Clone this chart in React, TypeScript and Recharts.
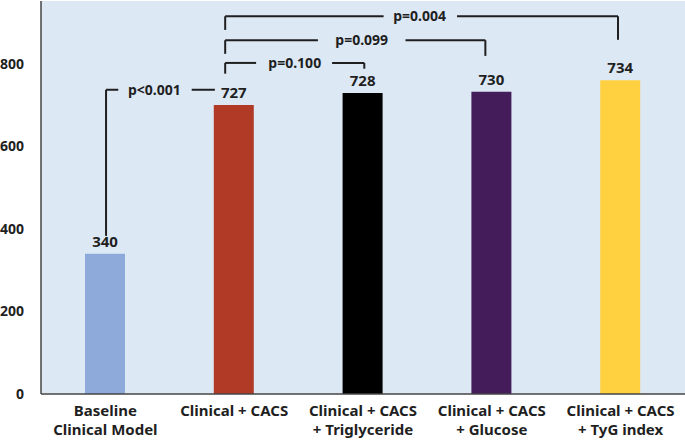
import { BarChart, Bar, XAxis, YAxis, CartesianGrid, LabelList, ReferenceLine, ReferenceDot, Cell } from 'recharts';

const categories = ['Baseline\nClinical Model', 'Clinical + CACS', 'Clinical + CACS\n+ Triglyceride', 'Clinical + CACS\n+ Glucose', 'Clinical + CACS\n+ TyG index'];
const barHeights = [340, 700, 729, 732, 760];
const barLabels = [340, 727, 728, 730, 734];
const barColors = ['#8eaadb', '#b03a26', '#000000', '#441c5a', '#ffd040'];
const yTicks = [0, 200, 400, 600, 800];

// significance brackets (x in category index units, y in value units)
const brackets = [
  { text: 'p<0.001', x1: 0.005, x2: 0.85, y: 737, leftDrop: 383, rightDrop: null, textX: 0.38, gapL: 0.1, gapR: 0.67 },
  { text: 'p=0.100', x1: 0.93, x2: 2.01, y: 802, leftDrop: 776, rightDrop: 788, textX: 1.47, gapL: 1.17, gapR: 1.76 },
  { text: 'p=0.099', x1: 0.93, x2: 2.95, y: 857, leftDrop: 824, rightDrop: 819, textX: 1.99, gapL: 1.65, gapR: 2.33 },
  { text: 'p=0.004', x1: 0.93, x2: 3.98, y: 915, leftDrop: 882, rightDrop: 858, textX: 2.44, gapL: 2.16, gapR: 2.73 },
];

const data = categories.map((name, i) => ({ x: i, name, value: barHeights[i], label: barLabels[i] }));

const FONT = '"Noto Sans", sans-serif';
const INK = '#1f1f1f';

function XTick(props: any) {
  const { x, y, payload } = props;
  const lines = categories[payload.value].split('\n');
  return (
    <text x={x} y={y} textAnchor="middle" fontFamily={FONT} fontSize={15} fontWeight="bold" fill={INK}>
      {lines.map((l, i) => (
        <tspan key={i} x={x} dy={i === 0 ? 14 : 19}>{l}</tspan>
      ))}
    </text>
  );
}

export default function App() {
  const segs: any[] = [];
  brackets.forEach((b) => {
    segs.push([{ x: b.x1, y: b.leftDrop }, { x: b.x1, y: b.y }]);
    segs.push([{ x: b.x1, y: b.y }, { x: b.gapL, y: b.y }]);
    segs.push([{ x: b.gapR, y: b.y }, { x: b.x2, y: b.y }]);
    if (b.rightDrop !== null) segs.push([{ x: b.x2, y: b.y }, { x: b.x2, y: b.rightDrop }]);
  });

  return (
    <div style={{ position: 'absolute', left: 0, top: 0, background: '#fff' }}>
      <BarChart width={685} height={440} data={data} margin={{ top: 1, right: 0, bottom: 0, left: 0 }}>
        <CartesianGrid horizontal={false} vertical={false} fill="#dde8f5" stroke="none" />
        <XAxis
          dataKey="x"
          type="number"
          domain={[-0.5, 4.5]}
          ticks={[0, 1, 2, 3, 4]}
          interval={0}
          height={46}
          tick={<XTick />}
          tickLine={false}
          axisLine={{ stroke: '#444', strokeWidth: 1.5 }}
        />
        <YAxis
          domain={[0, 952]}
          ticks={yTicks}
          width={41}
          tickSize={0}
          tickMargin={17}
          tickLine={false}
          axisLine={{ stroke: '#444', strokeWidth: 1.5 }}
          tick={{ fontFamily: FONT, fontSize: 14, fontWeight: 'bold', fill: INK }}
          allowDataOverflow
        />
        <Bar dataKey="value" barSize={40} isAnimationActive={false}>
          {data.map((d, i) => (
            <Cell key={i} fill={barColors[i]} />
          ))}
          <LabelList dataKey="label" position="top" offset={7} fontFamily={FONT} fontSize={15} fontWeight="bold" fill={INK} />
        </Bar>
        {segs.map((s, i) => (
          <ReferenceLine key={'s' + i} segment={s} stroke={INK} strokeWidth={2} ifOverflow="visible" />
        ))}
        {brackets.map((b, i) => (
          <ReferenceDot
            key={'t' + i}
            x={b.textX}
            y={b.y}
            r={0}
            fill="none"
            stroke="none"
            ifOverflow="visible"
            label={{ value: b.text, position: 'center', fontFamily: FONT, fontSize: 14, fontWeight: 'bold', fill: INK }}
          />
        ))}
      </BarChart>
    </div>
  );
}
